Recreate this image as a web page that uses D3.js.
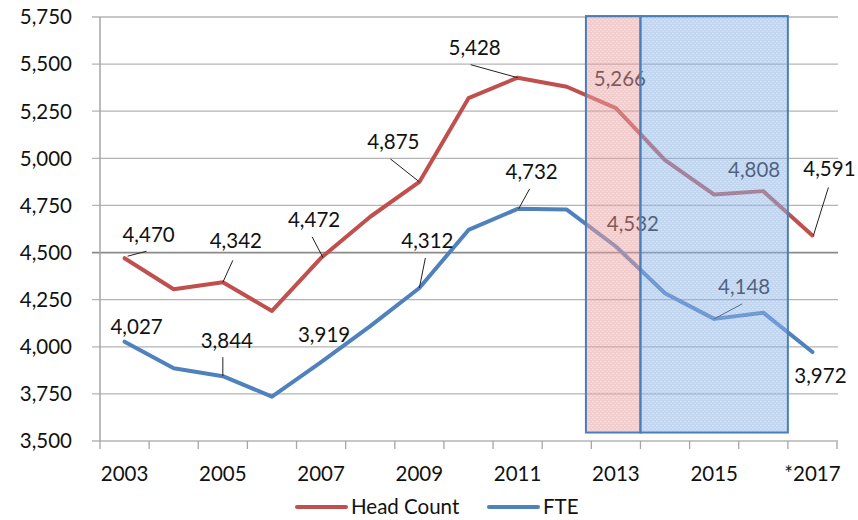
<!DOCTYPE html>
<html>
<head>
<meta charset="utf-8">
<script src="https://cdn.jsdelivr.net/npm/d3@7"></script>
<style>
  html, body { margin: 0; padding: 0; background: #fff; }
  svg { display: block; }
  text { font-family: Lato, "Open Sans", sans-serif; fill: #111; }
</style>
</head>
<body>
<svg id="chart" width="858" height="520"></svg>
<script>
// ---------- data ----------
const years = ["2003","2004","2005","2006","2007","2008","2009","2010","2011","2012","2013","2014","2015","2016","*2017"];
const headCount = [4470, 4305, 4342, 4190, 4472, 4690, 4875, 5319, 5428, 5380, 5266, 4990, 4808, 4826, 4591];
const fte       = [4027, 3886, 3844, 3735, 3919, 4110, 4312, 4620, 4732, 4728, 4532, 4284, 4148, 4181, 3972];
const yTicks = [3500, 3750, 4000, 4250, 4500, 4750, 5000, 5250, 5500, 5750];
const xTickLabels = ["2003","2005","2007","2009","2011","2013","2015","*2017"];
const seriesNames = ["Head Count", "FTE"];
// shaded periods (in category-index units along x, values along y)
const shadeFrom = [9.89, 11];
const shadeTo   = [11, 14];
const shadeYTop = 5755, shadeYBottom = 3545;

// label layout (index into data, text offset, leader line offsets) – layout only
const hcLabels = [
  {i:0,  dx:24,  dy:-16, lead:[22,-7,3,-2]},
  {i:2,  dx:13,  dy:-34, lead:[10,-22,0,0]},
  {i:4,  dx:-7,  dy:-31, lead:[-9,-21,2,0]},
  {i:6,  dx:-26, dy:-33, lead:[-29,-23,0,0]},
  {i:8,  dx:-43, dy:-23, lead:[-47,-13,0,0]},
  {i:10, dx:4,   dy:-22, lead:null},
  {i:12, dx:40,  dy:-18, lead:null},
  {i:14, dx:17,  dy:-59, lead:[16,-48,1,0]}
];
const fteLabels = [
  {i:0,  dx:12,  dy:-8,  lead:null},
  {i:2,  dx:4,   dy:-28, lead:[0,-19,0,0]},
  {i:4,  dx:3,   dy:-20, lead:null},
  {i:6,  dx:8,   dy:-40, lead:[6,-30,0,0]},
  {i:8,  dx:14,  dy:-30, lead:[12,-20,1,0]},
  {i:10, dx:17,  dy:-16, lead:null},
  {i:12, dx:30,  dy:-25, lead:[28,-15,0,0]},
  {i:14, dx:8,   dy:31,  lead:null}
];

// ---------- layout ----------
const svg = d3.select("#chart");
const pLeft = 100, pRight = 837, pTop = 17, pBottom = 441;
const x = d3.scaleBand().domain(years).range([pLeft, pRight]).padding(0);
const xIdx = d3.scaleLinear().domain([0, years.length]).range([pLeft, pRight]);
const y = d3.scaleLinear().domain([3500, 5750]).range([pBottom, pTop]);
const cx = i => x(years[i]) + x.bandwidth() / 2;
const fmt = d3.format(",");
const colors = ["#c0504d", "#4f81bd"];

// gridlines
svg.append("g").selectAll("line").data(yTicks).join("line")
  .attr("x1", pLeft - 8).attr("x2", pRight + 1)
  .attr("y1", d => y(d)).attr("y2", d => y(d))
  .attr("stroke", d => d === 4500 ? "#8a8a8a" : "#b4b4b4")
  .attr("stroke-width", d => d === 4500 ? 1.8 : 1.3);

// y axis line
svg.append("line").attr("x1", pLeft).attr("x2", pLeft)
  .attr("y1", y(5750)).attr("y2", pBottom)
  .attr("stroke", "#a6a6a6").attr("stroke-width", 1.5);

// x ticks
svg.append("g").selectAll("line").data(d3.range(years.length + 1)).join("line")
  .attr("x1", d => xIdx(d)).attr("x2", d => xIdx(d))
  .attr("y1", pBottom).attr("y2", pBottom + 8)
  .attr("stroke", "#a6a6a6").attr("stroke-width", 1.3);

// y labels
svg.append("g").selectAll("text").data(yTicks).join("text")
  .attr("x", 72).attr("y", d => y(d)).attr("dy", "0.36em")
  .attr("text-anchor", "end").style("font-size", "20.5px")
  .text(d => fmt(d));

// x labels
svg.append("g").selectAll("text").data(xTickLabels).join("text")
  .attr("x", d => x(d) + x.bandwidth() / 2).attr("y", 481)
  .attr("text-anchor", "middle").style("font-size", "20.5px")
  .text(d => d);

// lines
const line = d3.line().x((d, i) => cx(i)).y(d => y(d));
[headCount, fte].forEach((s, k) => {
  svg.append("path").datum(s).attr("d", line)
    .attr("fill", "none").attr("stroke", colors[k]).attr("stroke-width", 4)
    .attr("stroke-linejoin", "round").attr("stroke-linecap", "round");
});

// labels
function drawLabels(series, labels) {
  const g = svg.append("g");
  labels.forEach(l => {
    const px = cx(l.i), py = y(series[l.i]);
    if (l.lead) {
      g.append("line")
        .attr("x1", px + l.lead[0]).attr("y1", py + l.lead[1])
        .attr("x2", px + l.lead[2]).attr("y2", py + l.lead[3])
        .attr("stroke", "#222").attr("stroke-width", 1);
    }
    g.append("text").attr("x", px + l.dx).attr("y", py + l.dy)
      .attr("text-anchor", "middle").style("font-size", "20.5px")
      .text(fmt(series[l.i]));
  });
}
drawLabels(headCount, hcLabels);
drawLabels(fte, fteLabels);

// shading patterns
const defs = svg.append("defs");
function pattern(id, base) {
  const p = defs.append("pattern").attr("id", id).attr("patternUnits", "userSpaceOnUse")
    .attr("width", 4).attr("height", 4);
  p.append("rect").attr("width", 4).attr("height", 4).attr("fill", base);
  p.append("rect").attr("x", 0).attr("y", 1).attr("width", 2).attr("height", 1)
    .attr("fill", "#fff").attr("opacity", 0.35);
  p.append("rect").attr("x", 2).attr("y", 3).attr("width", 2).attr("height", 1)
    .attr("fill", "#fff").attr("opacity", 0.25);
}
pattern("pinkPat", "#e69c9c");
pattern("bluePat", "#88ade2");
const shadeFill = ["url(#pinkPat)", "url(#bluePat)"];

svg.append("g").selectAll("rect").data(shadeFrom).join("rect")
  .attr("x", (d, i) => xIdx(d)).attr("width", (d, i) => xIdx(shadeTo[i]) - xIdx(d))
  .attr("y", y(shadeYTop)).attr("height", y(shadeYBottom) - y(shadeYTop))
  .attr("fill", (d, i) => shadeFill[i]).attr("fill-opacity", 0.5)
  .attr("stroke", "#4a7ebb").attr("stroke-width", 2);

// legend
const legendX = [297, 489];
const lg = svg.append("g");
seriesNames.forEach((n, k) => {
  lg.append("line").attr("x1", legendX[k]).attr("x2", legendX[k] + 49)
    .attr("y1", 507).attr("y2", 507)
    .attr("stroke", colors[k]).attr("stroke-width", 4).attr("stroke-linecap", "round");
  lg.append("text").attr("x", legendX[k] + 54).attr("y", 513.5)
    .style("font-size", "20.5px").text(n);
});
</script>
</body>
</html>
